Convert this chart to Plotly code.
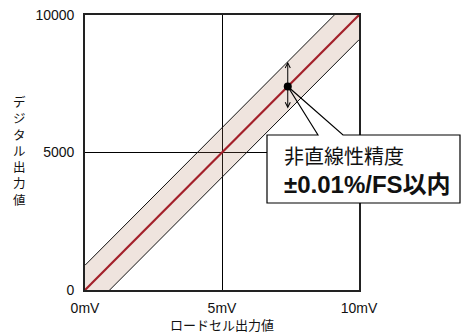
import plotly.graph_objects as go

# ---- data ----
x_ticks = [0, 5, 10]
x_tick_labels = ["0mV", "5mV", "10mV"]
y_ticks = [0, 5000, 10000]
y_tick_labels = ["0", "5000", "10000"]

ideal_x = [0, 10]
ideal_y = [0, 10000]

band_upper_x = [0, 9.1]
band_upper_y = [900, 10000]
band_lower_x = [0.9, 10]
band_lower_y = [0, 9100]

point_x = [7.4]
point_y = [7400]
arrow_top = 8300
arrow_bottom = 6550

x_title = "ロードセル出力値"
y_title = "デジタル出力値"
callout_line1 = "非直線性精度"
callout_line2 = "±0.01%/FS以内"

# ---- layout geometry (pixels) ----
W_FIG, H_FIG = 463, 332
L, T, PW, PH = 85, 15, 274, 275
X_MAX, Y_MAX = 10, 10000


def px(x):
    return (x - L) / PW


def py(y):
    return (T + PH - y) / PH


FONT = "Liberation Sans, Arial, Noto Sans CJK JP, sans-serif"

fig = go.Figure()

# band polygon
poly_x = [0, band_upper_x[0], band_upper_x[1], X_MAX, band_lower_x[1], band_lower_x[0]]
poly_y = [0, band_upper_y[0], band_upper_y[1], Y_MAX, band_lower_y[1], band_lower_y[0]]
fig.add_trace(go.Scatter(x=poly_x, y=poly_y, fill="toself", mode="lines",
                         line=dict(width=0), fillcolor="rgba(175,120,90,0.2)",
                         hoverinfo="skip", showlegend=False))
fig.add_trace(go.Scatter(x=band_upper_x, y=band_upper_y, mode="lines",
                         line=dict(color="#111111", width=1), showlegend=False))
fig.add_trace(go.Scatter(x=band_lower_x, y=band_lower_y, mode="lines",
                         line=dict(color="#111111", width=1), showlegend=False))
fig.add_trace(go.Scatter(x=ideal_x, y=ideal_y, mode="lines",
                         line=dict(color="#a3202a", width=2.2), showlegend=False))
fig.add_trace(go.Scatter(x=point_x, y=point_y, mode="markers",
                         marker=dict(color="black", size=8), showlegend=False))

# double arrow
fig.add_annotation(x=point_x[0], y=arrow_top, ax=point_x[0], ay=arrow_bottom,
                   xref="x", yref="y", axref="x", ayref="y", text="",
                   showarrow=True, arrowhead=5, startarrowhead=5, arrowside="end+start",
                   arrowwidth=1, arrowsize=1, startarrowsize=1, arrowcolor="black",
                   standoff=0, startstandoff=0)

# callout box
bx0, bx1, by0, by1 = 267, 460, 135, 203
n0, n1 = 318, 343
tip_x = point_x[0] / X_MAX
tip_y = point_y[0] / Y_MAX
fig.add_shape(type="rect", xref="paper", yref="paper",
              x0=px(bx0), x1=px(bx1), y0=py(by1), y1=py(by0),
              fillcolor="white", line=dict(width=0), layer="above")
path = (f"M {px(n0)},{py(by0)} L {tip_x},{tip_y} L {px(n1)},{py(by0)} "
        f"L {px(bx1)},{py(by0)} L {px(bx1)},{py(by1)} L {px(bx0)},{py(by1)} "
        f"L {px(bx0)},{py(by0)} Z")
fig.add_shape(type="path", xref="paper", yref="paper", path=path,
              fillcolor="rgba(0,0,0,0)", line=dict(color="black", width=1.2), layer="above")

fig.add_annotation(x=px(282), y=py(157), xref="paper", yref="paper", text=callout_line1,
                   showarrow=False, xanchor="left", yanchor="middle",
                   font=dict(family=FONT, size=20, color="#111"))
fig.add_annotation(x=px(282), y=py(184), xref="paper", yref="paper",
                   text="<b>" + callout_line2 + "</b>",
                   showarrow=False, xanchor="left", yanchor="middle",
                   font=dict(family=FONT, size=24, color="#111"))

# axis titles
fig.add_annotation(x=px(222), y=py(325), xref="paper", yref="paper", text=x_title,
                   showarrow=False, xanchor="center", yanchor="middle",
                   font=dict(family=FONT, size=13, color="#111"))
fig.add_annotation(x=px(19), y=py(151), xref="paper", yref="paper",
                   text="<br>".join(list(y_title)),
                   showarrow=False, xanchor="center", yanchor="middle",
                   font=dict(family=FONT, size=12.5, color="#111"))

axis_common = dict(showline=True, linecolor="#222", linewidth=1.6, mirror=True,
                   showgrid=True, gridcolor="black", gridwidth=1, zeroline=False,
                   automargin=False,
                   ticks="", tickfont=dict(family=FONT, size=14, color="#111"))
fig.update_xaxes(range=[0, X_MAX], tickvals=x_ticks, ticktext=x_tick_labels,
                 ticklabelstandoff=4, **axis_common)
fig.update_yaxes(range=[0, Y_MAX], tickvals=y_ticks, ticktext=y_tick_labels,
                 ticklabelstandoff=6, **axis_common)

fig.update_layout(width=W_FIG, height=H_FIG,
                  margin=dict(l=L, r=W_FIG - L - PW, t=T, b=H_FIG - T - PH),
                  plot_bgcolor="white", paper_bgcolor="white", showlegend=False)

fig.write_html(
    "out.html",
    config={"displayModeBar": False},
    post_script=("document.documentElement.style.overflow='hidden';"
                 "document.body.style.margin='0';"
                 "document.body.style.overflow='hidden';"),
)
